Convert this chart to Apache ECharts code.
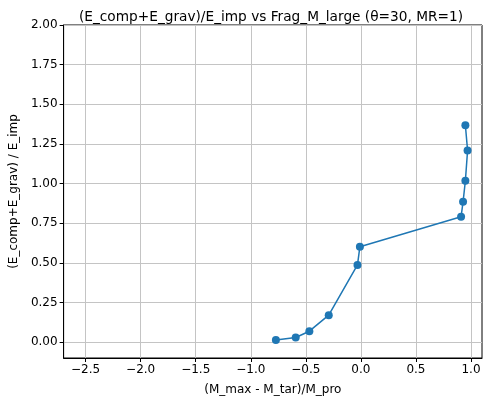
<!DOCTYPE html>
<html><head><meta charset="utf-8">
<script src="https://cdn.jsdelivr.net/npm/echarts@6/dist/echarts.min.js"></script>
<style>html,body{margin:0;padding:0;background:#fff}#c{width:484px;height:401px}</style>
</head><body><div id="c"></div>
<script>
const xValues = [-0.772, -0.592, -0.468, -0.292, -0.031, -0.009, 0.910, 0.928, 0.949, 0.969, 0.949];
const yValues = [0.014, 0.029, 0.069, 0.170, 0.487, 0.602, 0.791, 0.885, 1.018, 1.209, 1.368];
const xTicks = [-2.5, -2.0, -1.5, -1.0, -0.5, 0.0, 0.5, 1.0];
const yTicks = [0.00, 0.25, 0.50, 0.75, 1.00, 1.25, 1.50, 1.75, 2.00];
const titleText = '(E_comp+E_grav)/E_imp vs Frag_M_large (θ=30, MR=1)';
const xName = '(M_max - M_tar)/M_pro';
const yName = '(E_comp+E_grav) / E_imp';

const font = 'DejaVu Sans';
const fmtMinus = s => s.replace('-', '\u2212');
const chart = echarts.init(document.getElementById('c'));
chart.setOption({
  animation: false,
  title: {text: titleText, left: 266, top: 5, textAlign: 'center',
    textStyle: {fontFamily: font, fontSize: 13.7, fontWeight: 'normal', color: '#000'}},
  grid: {left: 61, right: 2, top: 25, bottom: 42, show: true, borderColor: '#000', borderWidth: 1, backgroundColor: 'transparent'},
  xAxis: {type: 'value', min: -2.7, max: 1.1,
    name: xName, nameLocation: 'middle', nameGap: 26,
    nameTextStyle: {fontFamily: font, fontSize: 12, color: '#000'},
    axisLine: {show: true, onZero: false, lineStyle: {color: '#000', width: 1}},
    axisTick: {show: true, length: 4, customValues: xTicks, lineStyle: {color: '#000'}},
    axisLabel: {customValues: xTicks, fontFamily: font, fontSize: 12, color: '#000', margin: 6,
      formatter: v => fmtMinus(v.toFixed(1))},
    splitLine: {show: true, lineStyle: {color: '#c4c4c4', width: 1}}},
  yAxis: {type: 'value', min: -0.1, max: 2.0,
    name: yName, nameLocation: 'middle', nameGap: 36,
    nameTextStyle: {fontFamily: font, fontSize: 12, color: '#000'},
    axisLine: {show: true, onZero: false, lineStyle: {color: '#000', width: 1}},
    axisTick: {show: true, length: 4, customValues: yTicks, lineStyle: {color: '#000'}},
    axisLabel: {customValues: yTicks, fontFamily: font, fontSize: 12, color: '#000', margin: 6,
      formatter: v => fmtMinus(v.toFixed(2))},
    splitLine: {show: true, lineStyle: {color: '#c4c4c4', width: 1}}},
  series: [{type: 'line', data: xValues.map((x, i) => [x, yValues[i]]),
    symbol: 'circle', symbolSize: 8, showSymbol: true,
    lineStyle: {color: '#1f77b4', width: 1.5},
    itemStyle: {color: '#1f77b4', borderWidth: 0}}]
});
</script></body></html>
